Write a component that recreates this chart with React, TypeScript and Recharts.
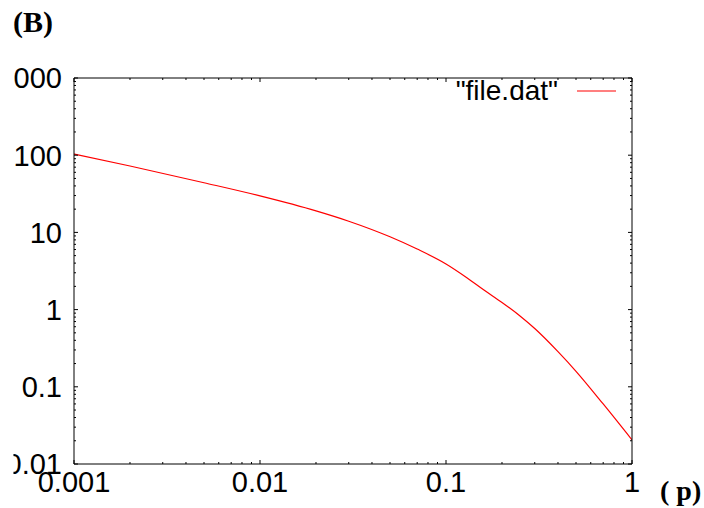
import React from 'react';
import { ComposedChart, Line, XAxis, YAxis, Legend } from 'recharts';

const xValues = [0.001, 0.002, 0.005, 0.01, 0.02, 0.03, 0.05, 0.07, 0.1, 0.13, 0.16, 0.2, 0.25, 0.3, 0.4, 0.5, 0.7, 1];
const yValues = [103.6, 72.4, 44.0, 29.7, 19.0, 13.96, 8.77, 6.08, 3.9, 2.57, 1.79, 1.236, 0.826, 0.568, 0.285, 0.1588, 0.0599, 0.0205];

const xMajor = [0.001, 0.01, 0.1, 1];
const xTickLabels = ['0.001', '0.01', '0.1', '1'];
const xMinor = [
  0.002, 0.003, 0.004, 0.005, 0.006, 0.007, 0.008, 0.009,
  0.02, 0.03, 0.04, 0.05, 0.06, 0.07, 0.08, 0.09,
  0.2, 0.3, 0.4, 0.5, 0.6, 0.7, 0.8, 0.9,
];
const yMajor = [0.01, 0.1, 1, 10, 100, 1000];
const yTickLabels = ['0.01', '0.1', '1', '10', '100', '1000'];
const yMinor = [
  0.02, 0.03, 0.04, 0.05, 0.06, 0.07, 0.08, 0.09,
  0.2, 0.3, 0.4, 0.5, 0.6, 0.7, 0.8, 0.9,
  2, 3, 4, 5, 6, 7, 8, 9,
  20, 30, 40, 50, 60, 70, 80, 90,
  200, 300, 400, 500, 600, 700, 800, 900,
];

const seriesName = '"file.dat"';
const xAxisTitle = '( p)';
const panelTitle = '(B)';

const data = xValues.map((x, i) => ({ x, y: yValues[i] }));
const xTicks = [...xMajor, ...xMinor].sort((a, b) => a - b);
const yTicks = [...yMajor, ...yMinor].sort((a, b) => a - b);

const MAJOR = 4;
const MINOR = 2;
const SANS = '"Liberation Sans", Arial, sans-serif';
const SERIF = '"Liberation Serif", "Times New Roman", serif';
const FS = 29;

const majorIndex = (v: number, list: number[]) =>
  list.findIndex((m) => Math.abs(m - v) / m < 1e-6);

const BottomTick = (props: any) => {
  const { x, y, payload } = props;
  const idx = majorIndex(payload.value, xMajor);
  const len = idx >= 0 ? MAJOR : MINOR;
  return (
    <g>
      <line x1={x} x2={x} y1={y} y2={y - len} stroke="#000" strokeWidth={1} />
      {idx >= 0 && (
        <text x={x} y={y + 28} textAnchor="middle" fontSize={FS} fontFamily={SANS} fill="#000">
          {xTickLabels[idx]}
        </text>
      )}
    </g>
  );
};

const TopTick = (props: any) => {
  const { x, y, payload } = props;
  const idx = majorIndex(payload.value, xMajor);
  const len = idx >= 0 ? MAJOR : MINOR;
  return <line x1={x} x2={x} y1={y} y2={y + len} stroke="#000" strokeWidth={1} />;
};

const LeftTick = (props: any) => {
  const { x, y, payload } = props;
  const idx = majorIndex(payload.value, yMajor);
  const len = idx >= 0 ? MAJOR : MINOR;
  return (
    <g>
      <line x1={x} x2={x + len} y1={y} y2={y} stroke="#000" strokeWidth={1} />
      {idx >= 0 && (
        <g clipPath="url(#ylabel-clip)">
          <text x={x - 12} y={y} dy="0.36em" textAnchor="end" fontSize={FS} fontFamily={SANS} fill="#000">
            {yTickLabels[idx]}
          </text>
        </g>
      )}
    </g>
  );
};

const RightTick = (props: any) => {
  const { x, y, payload } = props;
  const idx = majorIndex(payload.value, yMajor);
  const len = idx >= 0 ? MAJOR : MINOR;
  return <line x1={x} x2={x - len} y1={y} y2={y} stroke="#000" strokeWidth={1} />;
};

const LegendContent = () => (
  <svg width={180} height={36} style={{ display: 'block', overflow: 'visible' }}>
    <text x={108} y={28} textAnchor="end" fontSize={28} fontFamily={SANS} fill="#000">
      {seriesName}
    </text>
    <line x1={127} x2={166} y1={19} y2={19} stroke="#ff0000" strokeWidth={1.2} />
  </svg>
);

export default function App() {
  return (
    <div style={{ position: 'absolute', left: 0, top: 0, width: 704, height: 508, background: '#fff' }}>
      <svg width={0} height={0} style={{ position: 'absolute' }}>
        <defs>
          <clipPath id="ylabel-clip" clipPathUnits="userSpaceOnUse">
            <rect x={13.5} y={0} width={690} height={508} />
          </clipPath>
        </defs>
      </svg>
      <ComposedChart
        width={704}
        height={508}
        data={data}
        margin={{ top: 77, right: 71, bottom: 0, left: 0 }}
      >
        <XAxis
          xAxisId="bottom"
          dataKey="x"
          type="number"
          scale="log"
          domain={[0.001, 1]}
          allowDataOverflow
          ticks={xTicks}
          interval={0}
          height={44}
          tickSize={0}
          tickMargin={0}
          tickLine={false}
          axisLine={{ stroke: '#000', strokeWidth: 1 }}
          tick={BottomTick}
        />
        <XAxis
          xAxisId="top"
          dataKey="x"
          orientation="top"
          type="number"
          scale="log"
          domain={[0.001, 1]}
          allowDataOverflow
          ticks={xTicks}
          interval={0}
          height={1}
          tickSize={0}
          tickMargin={0}
          tickLine={false}
          axisLine={{ stroke: '#000', strokeWidth: 1 }}
          tick={TopTick}
        />
        <YAxis
          yAxisId="left"
          dataKey="y"
          type="number"
          scale="log"
          domain={[0.01, 1000]}
          allowDataOverflow
          ticks={yTicks}
          interval={0}
          width={74}
          tickSize={0}
          tickMargin={0}
          tickLine={false}
          axisLine={{ stroke: '#000', strokeWidth: 1 }}
          tick={LeftTick}
        />
        <YAxis
          yAxisId="right"
          dataKey="y"
          orientation="right"
          type="number"
          scale="log"
          domain={[0.01, 1000]}
          allowDataOverflow
          ticks={yTicks}
          interval={0}
          width={1}
          tickSize={0}
          tickMargin={0}
          tickLine={false}
          axisLine={{ stroke: '#000', strokeWidth: 1 }}
          tick={RightTick}
        />
        <Legend
          layout="vertical"
          align="center"
          verticalAlign="middle"
          content={LegendContent}
          wrapperStyle={{ position: 'absolute', left: 450, top: 72, width: 180, height: 36 }}
        />
        <Line
          xAxisId="top"
          yAxisId="right"
          type="monotone"
          dataKey="y"
          stroke="none"
          dot={false}
          legendType="none"
          isAnimationActive={false}
        />
        <Line
          xAxisId="bottom"
          yAxisId="left"
          type="monotone"
          dataKey="y"
          name={seriesName}
          stroke="#ff0000"
          strokeWidth={1.2}
          dot={false}
          isAnimationActive={false}
        />
      </ComposedChart>
      <svg
        width={704}
        height={508}
        style={{ position: 'absolute', left: 0, top: 0, pointerEvents: 'none' }}
      >
        <text x={13} y={32} fontSize={30} fontWeight="bold" fontFamily={SERIF} fill="#000">
          {panelTitle}
        </text>
        <text x={660} y={500} fontSize={28} fontWeight="bold" fontFamily={SERIF} fill="#000">
          {xAxisTitle}
        </text>
      </svg>
    </div>
  );
}
